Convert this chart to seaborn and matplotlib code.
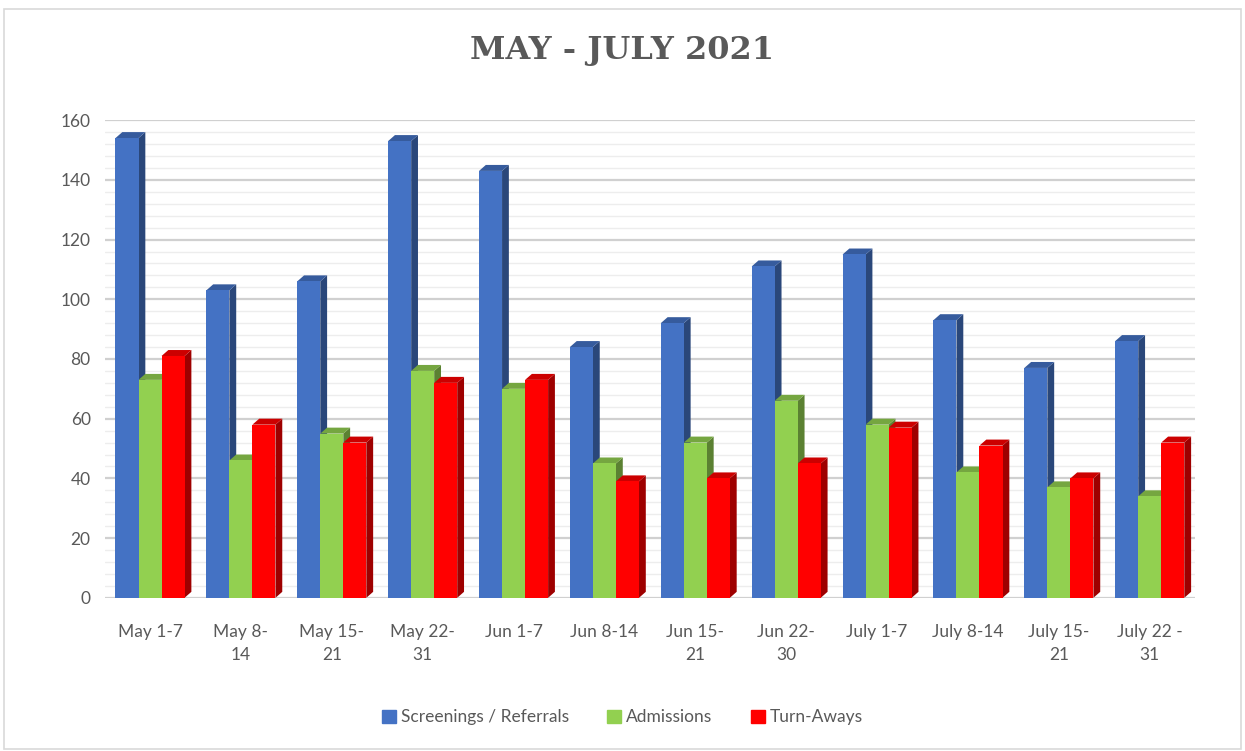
import pandas as pd
import seaborn as sns
import matplotlib.pyplot as plt
from matplotlib.patches import Polygon, Rectangle
import matplotlib.colors as mcolors

# Data
weeks = ['May 1-7', 'May 8-\n14', 'May 15-\n21', 'May 22-\n31', 'Jun 1-7', 'Jun 8-14',
         'Jun 15-\n21', 'Jun 22-\n30', 'July 1-7', 'July 8-14', 'July 15-\n21', 'July 22 -\n31']
screenings = [154, 103, 106, 153, 143, 84, 92, 111, 115, 93, 77, 86]
admissions = [73, 46, 55, 76, 70, 45, 52, 66, 58, 42, 37, 34]
turn_aways = [81, 58, 52, 72, 73, 39, 40, 45, 57, 51, 40, 52]
series = ['Screenings / Referrals', 'Admissions', 'Turn-Aways']
colors = ['#4472C4', '#92D050', '#FF0000']

df = pd.DataFrame({'week': weeks, series[0]: screenings,
                   series[1]: admissions, series[2]: turn_aways})
long = df.melt(id_vars='week', var_name='series', value_name='count')

sns.set_style('white')
plt.rcParams['font.family'] = ['Lato', 'DejaVu Sans']

fig = plt.figure(figsize=(12.45, 7.51), dpi=100)
ax = fig.add_axes([0.084, 0.204, 0.876, 0.636])

# gridlines (major every 20, minor every 4)
for v in range(0, 161, 4):
    major = v % 20 == 0
    ax.axhline(v, color='#D0D0D0' if major else '#EDEDED',
               lw=1.6 if major else 1.0, zorder=0)

sns.barplot(data=long, x='week', y='count', hue='series', palette=colors,
            width=0.76, saturation=1, linewidth=0, edgecolor='none',
            ax=ax, zorder=3, legend=False)

# fake 3D side / top faces built from the bar patches
dx, dy = 0.075, 2.0
for p in list(ax.patches):
    x0, y0 = p.get_x(), p.get_y()
    w, h = p.get_width(), p.get_height()
    c = mcolors.to_rgb(p.get_facecolor())
    dark = tuple(v * 0.62 for v in c)
    mid = tuple(v * 0.8 for v in c)
    side = Polygon([(x0 + w, y0), (x0 + w + dx, y0 + dy), (x0 + w + dx, y0 + h + dy),
                    (x0 + w, y0 + h)], closed=True, facecolor=dark, lw=0, zorder=2.5)
    top = Polygon([(x0, y0 + h), (x0 + dx, y0 + h + dy), (x0 + w + dx, y0 + h + dy),
                   (x0 + w, y0 + h)], closed=True, facecolor=mid, lw=0, zorder=2.5)
    ax.add_patch(side)
    ax.add_patch(top)

ax.set_ylim(0, 160)
ax.set_xlim(-0.5, 11.5)
ax.set_yticks(range(0, 161, 20))
ax.set_xlabel('')
ax.set_ylabel('')
ax.tick_params(axis='both', labelsize=12.5, colors='#595959', length=0)
ax.tick_params(axis='y', pad=10)
ax.tick_params(axis='x', pad=19)
for t in ax.get_xticklabels():
    t.set_linespacing(1.55)
sns.despine(ax=ax, left=True, bottom=True)

fig.text(0.5, 0.933, 'MAY - JULY 2021', ha='center', va='center', fontsize=23,
         fontweight='bold', color='#595959', family='DejaVu Serif')

handles = [Rectangle((0, 0), 1, 1, color=c) for c in colors]
fig.legend(handles, series, loc='center', bbox_to_anchor=(0.5, 0.045), ncol=3,
           frameon=False, fontsize=12.5, handlelength=0.8, handleheight=0.8,
           handletextpad=0.3, columnspacing=2.2, labelcolor='#595959')

# light outer border
fig.patches.append(Rectangle((0.003, 0.003), 0.994, 0.985, transform=fig.transFigure,
                             fill=False, edgecolor='#D9D9D9', lw=1.2))

fig.savefig('out.png', dpi=100)
